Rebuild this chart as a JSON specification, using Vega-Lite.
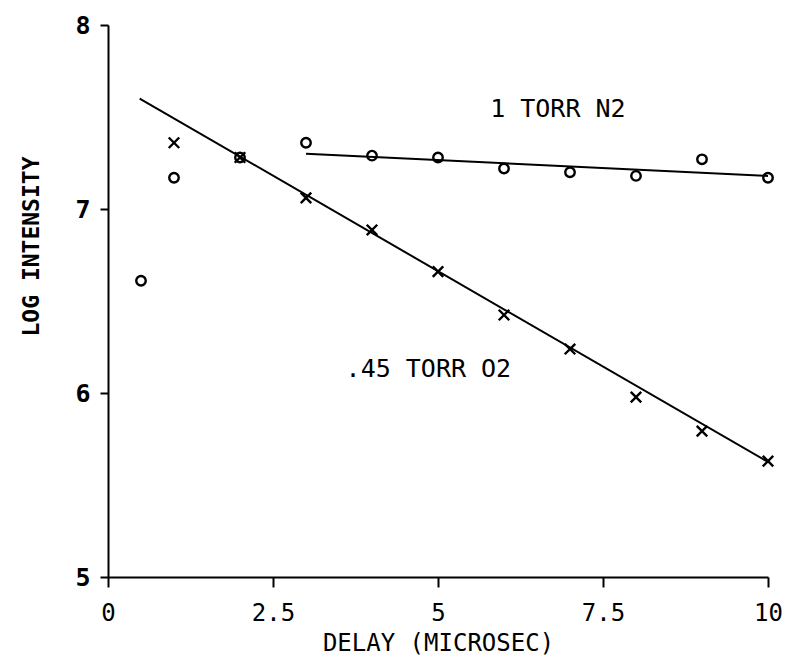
{
  "$schema": "https://vega.github.io/schema/vega-lite/v6.json",
  "autosize": {"type": "none"},
  "padding": {"left": 108, "top": 25, "right": 19, "bottom": 82},
  "width": 660,
  "height": 552,
  "background": "white",
  "config": {
    "view": {"stroke": null},
    "axis": {
      "grid": false,
      "domainColor": "black",
      "domainWidth": 2,
      "tickColor": "black",
      "tickWidth": 2,
      "labelColor": "black",
      "titleColor": "black",
      "labelFont": "DejaVu Sans Mono",
      "titleFont": "DejaVu Sans Mono"
    }
  },
  "datasets": {
    "n2": [
      {"delay": 0.5, "logI": 6.61},
      {"delay": 1, "logI": 7.17},
      {"delay": 2, "logI": 7.28},
      {"delay": 3, "logI": 7.36},
      {"delay": 4, "logI": 7.29},
      {"delay": 5, "logI": 7.28},
      {"delay": 6, "logI": 7.22},
      {"delay": 7, "logI": 7.20},
      {"delay": 8, "logI": 7.18},
      {"delay": 9, "logI": 7.27},
      {"delay": 10, "logI": 7.17}
    ],
    "o2": [
      {"delay": 1, "logI": 7.36},
      {"delay": 2, "logI": 7.28},
      {"delay": 3, "logI": 7.06},
      {"delay": 4, "logI": 6.886},
      {"delay": 5, "logI": 6.66},
      {"delay": 6, "logI": 6.424},
      {"delay": 7, "logI": 6.239},
      {"delay": 8, "logI": 5.978},
      {"delay": 9, "logI": 5.793},
      {"delay": 10, "logI": 5.63}
    ],
    "fits": [
      {"gas": "N2", "delay": 3, "logI": 7.30},
      {"gas": "N2", "delay": 10, "logI": 7.18},
      {"gas": "O2", "delay": 0.48, "logI": 7.60},
      {"gas": "O2", "delay": 10, "logI": 5.625}
    ],
    "labels": [
      {"text": "1 TORR N2", "delay": 5.79, "logI": 7.543},
      {"text": ".45 TORR O2", "delay": 3.6, "logI": 6.13}
    ]
  },
  "layer": [
    {
      "data": {"name": "fits"},
      "mark": {"type": "line", "color": "black", "strokeWidth": 2},
      "encoding": {
        "x": {
          "field": "delay", "type": "quantitative",
          "scale": {"domain": [0, 10], "nice": false, "zero": false},
          "axis": {
            "values": [0, 2.5, 5, 7.5, 10],
            "format": "~g",
            "title": "DELAY (MICROSEC)",
            "titleFontSize": 24, "titleFontWeight": "normal",
            "titlePadding": 6,
            "labelFontSize": 24, "labelPadding": 14, "tickSize": 10,
            "labelFlush": false
          }
        },
        "y": {
          "field": "logI", "type": "quantitative",
          "scale": {"domain": [5, 8], "nice": false, "zero": false},
          "axis": {
            "values": [5, 6, 7, 8],
            "format": "~g",
            "title": "LOG INTENSITY",
            "titleFontSize": 23, "titleFontWeight": "bold",
            "titleX": -77, "titleY": 221, "titleAlign": "center", "titleBaseline": "middle", "titleAngle": -90,
            "labelFontSize": 25, "labelFontWeight": "bold", "labelPadding": 10, "tickSize": 8,
            "labelFlush": false
          }
        },
        "detail": {"field": "gas"}
      }
    },
    {
      "data": {"name": "n2"},
      "mark": {"type": "point", "shape": "circle", "filled": false, "color": "black", "strokeWidth": 2.4, "size": 90, "opacity": 1},
      "encoding": {
        "x": {"field": "delay", "type": "quantitative"},
        "y": {"field": "logI", "type": "quantitative"}
      }
    },
    {
      "data": {"name": "o2"},
      "mark": {"type": "point", "shape": "M-1,-1L1,1M-1,1L1,-1", "filled": false, "color": "black", "strokeWidth": 2.4, "size": 110, "opacity": 1},
      "encoding": {
        "x": {"field": "delay", "type": "quantitative"},
        "y": {"field": "logI", "type": "quantitative"}
      }
    },
    {
      "data": {"name": "labels"},
      "mark": {"type": "text", "align": "left", "baseline": "middle", "font": "DejaVu Sans Mono", "fontSize": 25, "color": "black"},
      "encoding": {
        "x": {"field": "delay", "type": "quantitative"},
        "y": {"field": "logI", "type": "quantitative"},
        "text": {"field": "text"}
      }
    }
  ]
}
